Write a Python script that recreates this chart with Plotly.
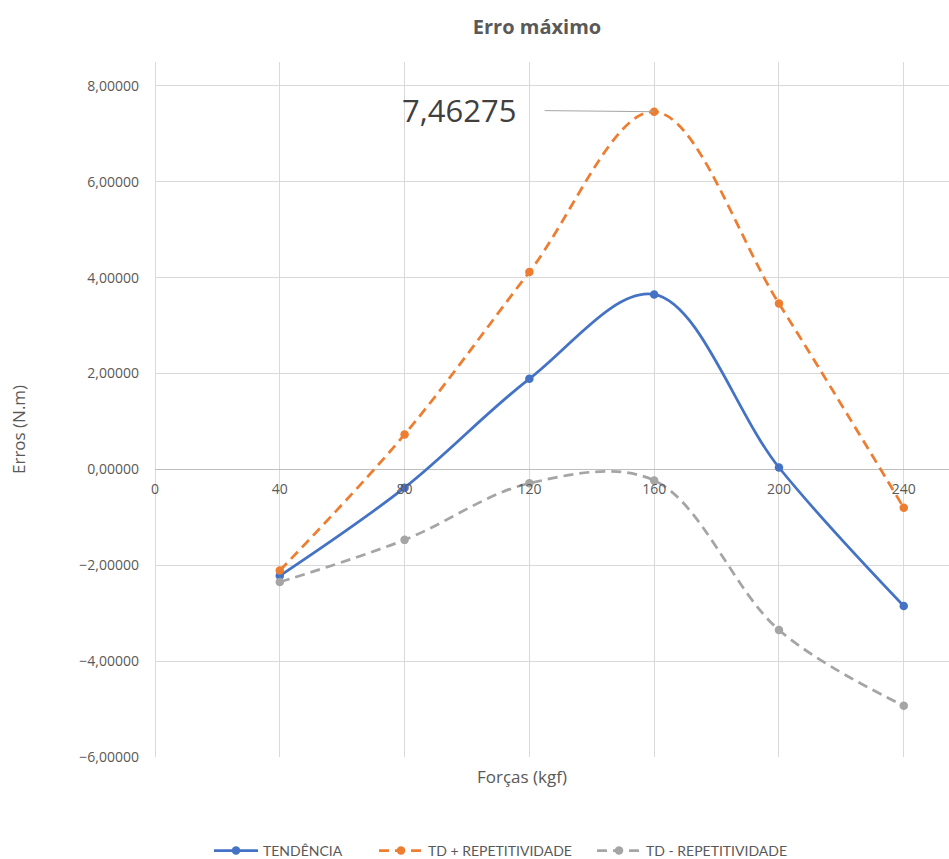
import plotly.graph_objects as go

# Force applied (kgf)
forcas = [40, 80, 120, 160, 200, 240]

# Errors (N.m) per series
tendencia = [-2.22, -0.38, 1.89, 3.65, 0.04, -2.85]
td_mais_rep = [-2.11, 0.73, 4.12, 7.46275, 3.46, -0.80]
td_menos_rep = [-2.35, -1.47, -0.29, -0.23, -3.35, -4.93]

serie_nomes = ["TENDÊNCIA", "TD + REPETITIVIDADE", "TD - REPETITIVIDADE"]
serie_cores = ["#4472C4", "#ED7D31", "#A5A5A5"]

x_ticks = [0, 40, 80, 120, 160, 200, 240]
y_ticks = [-6, -4, -2, 0, 2, 4, 6, 8]

W, H = 949, 859
M_L, M_R, M_T, M_B = 155, 0, 62, 102
Y_MIN, Y_MAX = -6, 8.5
X_MIN, X_MAX = 0, 254.5
PW, PH = W - M_L - M_R, H - M_T - M_B

TXT = "#595959"
GRID = "#D9D9D9"

# one legend box per series, laid out along the bottom edge
legend_ids = ["legend", "legend2", "legend3"]
legend_px = [209, 374, 592]

fig = go.Figure()
for nome, vals, cor, dash, leg in zip(
    serie_nomes,
    [tendencia, td_mais_rep, td_menos_rep],
    serie_cores,
    ["solid", "10px,6px", "10px,6px"],
    legend_ids,
):
    fig.add_trace(
        go.Scatter(
            x=forcas,
            y=vals,
            name=nome,
            legend=leg,
            mode="lines+markers",
            line=dict(color=cor, width=2.75, dash=dash, shape="spline", smoothing=1),
            marker=dict(color=cor, size=8.5, symbol="circle"),
        )
    )

# Data label on the peak of TD + REPETITIVIDADE, with a leader line
i_pico = td_mais_rep.index(max(td_mais_rep))
fig.add_annotation(
    x=forcas[i_pico],
    y=td_mais_rep[i_pico],
    xref="x",
    yref="y",
    text=f"{td_mais_rep[i_pico]:.5f}".replace(".", ","),
    font=dict(family="Open Sans", size=31, color="#404040"),
    showarrow=True,
    arrowhead=0,
    arrowwidth=1,
    arrowcolor="#A6A6A6",
    ax=-195,
    ay=-2,
    borderpad=28,
)

legend_style = dict(
    orientation="h",
    xanchor="left",
    y=(757 - 851) / PH,
    yanchor="middle",
    itemwidth=44,
    font=dict(family="Lato", size=14, color=TXT),
    bgcolor="rgba(0,0,0,0)",
)
legends = {
    leg: dict(legend_style, x=(px - M_L) / PW) for leg, px in zip(legend_ids, legend_px)
}

fig.update_layout(
    width=W,
    height=H,
    margin=dict(l=M_L, r=M_R, t=M_T, b=M_B, autoexpand=False),
    paper_bgcolor="white",
    plot_bgcolor="white",
    separators=",.",
    font=dict(family="Open Sans", size=14, color=TXT),
    title=dict(
        text="<b>Erro máximo</b>",
        font=dict(family="Open Sans", size=20, color=TXT),
        x=(537 - M_L) / PW,
        xanchor="center",
        xref="paper",
        y=1 - 27 / H,
        yanchor="middle",
        yref="container",
    ),
    xaxis=dict(
        range=[X_MIN, X_MAX],
        tickmode="array",
        tickvals=x_ticks,
        ticktext=[str(v) for v in x_ticks],
        showgrid=True,
        gridcolor=GRID,
        gridwidth=1,
        zeroline=True,
        zerolinecolor=GRID,
        zerolinewidth=1,
        showline=False,
        anchor="free",
        position=(0 - Y_MIN) / (Y_MAX - Y_MIN),
        ticks="",
        ticklabelstandoff=10,
        tickfont=dict(family="Open Sans", size=14, color=TXT),
        fixedrange=True,
    ),
    yaxis=dict(
        range=[Y_MIN, Y_MAX],
        tickmode="array",
        tickvals=y_ticks,
        tickformat=".5f",
        showgrid=True,
        gridcolor=GRID,
        gridwidth=1,
        zeroline=True,
        zerolinecolor="#BFBFBF",
        zerolinewidth=1,
        showline=False,
        ticks="",
        ticklabelstandoff=15,
        tickfont=dict(family="Open Sans", size=14, color=TXT),
        fixedrange=True,
    ),
    showlegend=True,
    **legends,
)

# Axis titles
fig.add_annotation(
    text="Forças (kgf)",
    xref="paper",
    yref="paper",
    x=(522 - M_L) / PW,
    y=(757 - 776) / PH,
    xanchor="center",
    yanchor="middle",
    showarrow=False,
    font=dict(family="Open Sans", size=17, color=TXT),
)
fig.add_annotation(
    text="Erros (N.m)",
    xref="paper",
    yref="paper",
    x=(18 - M_L) / PW,
    y=(H - M_B - 430) / PH,
    xanchor="center",
    yanchor="middle",
    textangle=-90,
    showarrow=False,
    font=dict(family="Open Sans", size=17, color=TXT),
)

fig.write_html("out.html")
